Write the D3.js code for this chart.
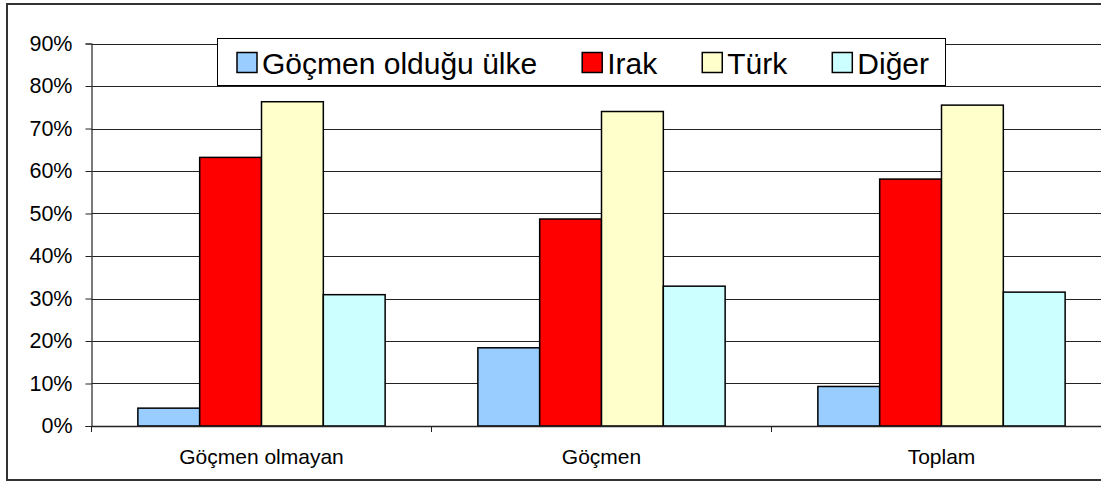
<!DOCTYPE html>
<html>
<head>
<meta charset="utf-8">
<script src="https://cdn.jsdelivr.net/npm/d3@7"></script>
<style>
  html, body { margin: 0; padding: 0; background: #fff; }
  svg { display: block; }
  text { font-family: "Liberation Sans", Arial, sans-serif; fill: #000; }
</style>
</head>
<body>
<svg id="chart" width="1101" height="484"></svg>
<script>
const categories = ["Göçmen olmayan", "Göçmen", "Toplam"];
const seriesNames = ["Göçmen olduğu ülke", "Irak", "Türk", "Diğer"];
const seriesColors = ["#99CCFF", "#FF0000", "#FFFFCC", "#CCFFFF"];
const valGocmenUlke = [4.2, 18.4, 9.3];
const valIrak = [63.2, 48.7, 58.1];
const valTurk = [76.3, 74.0, 75.5];
const valDiger = [30.9, 32.9, 31.5];
const yTicks = [0, 10, 20, 30, 40, 50, 60, 70, 80, 90];

const seriesValues = [valGocmenUlke, valIrak, valTurk, valDiger];

const svg = d3.select("#chart");

// outer chart border (extends beyond right edge like the reference)
svg.append("rect")
  .attr("x", 7).attr("y", 4).attr("width", 1120).attr("height", 476)
  .attr("fill", "#fff").attr("stroke", "#333").attr("stroke-width", 2);

const plotLeft = 91.5, catW = 340, plotTop = 43.5, plotBottom = 426;
const x = d3.scaleBand().domain(categories).range([plotLeft, plotLeft + catW * categories.length]).paddingInner(0).paddingOuter(0);
const xs = d3.scaleBand().domain(seriesNames).range([0, x.bandwidth()]).paddingInner(0).paddingOuter(0.75);
const y = d3.scaleLinear().domain([0, 90]).range([plotBottom, plotTop]);

// gridlines
svg.append("g").selectAll("line").data(yTicks.filter(d => d > 0)).join("line")
  .attr("x1", plotLeft).attr("x2", plotLeft + catW * 3)
  .attr("y1", d => Math.round(y(d)) + 0.5).attr("y2", d => Math.round(y(d)) + 0.5)
  .attr("stroke", "#222").attr("stroke-width", 1);

// bars
const groups = svg.append("g").selectAll("g").data(categories).join("g")
  .attr("transform", c => `translate(${x(c)},0)`);
groups.selectAll("rect")
  .data((c, ci) => seriesNames.map((s, si) => ({ s, si, v: seriesValues[si][ci] })))
  .join("rect")
  .attr("x", d => xs(d.s))
  .attr("width", xs.bandwidth())
  .attr("y", d => y(d.v))
  .attr("height", d => y(0) - y(d.v))
  .attr("fill", d => seriesColors[d.si])
  .attr("stroke", "#000").attr("stroke-width", 1.5);

// y axis
const yAxis = d3.axisLeft(y).tickValues(yTicks).tickFormat(d => d + "%").tickSize(6).tickPadding(13);
const gy = svg.append("g").attr("transform", `translate(${plotLeft},0)`).call(yAxis);
gy.select(".domain").attr("stroke", "#222").attr("stroke-width", 1.2);
gy.selectAll(".tick line").attr("stroke", "#222");
gy.selectAll(".tick text").attr("font-size", 21.5).style("font-family", "'Liberation Sans', Arial, sans-serif").attr("fill", "#000");

// x axis
const xEdges = d3.scaleLinear().domain([0, categories.length]).range([plotLeft, plotLeft + catW * categories.length]);
const gx = svg.append("g").attr("transform", `translate(0,${plotBottom})`);
gx.append("line").attr("x1", plotLeft).attr("x2", plotLeft + catW * 3).attr("y1", 0.5).attr("y2", 0.5)
  .attr("stroke", "#222").attr("stroke-width", 1.5);
gx.selectAll(".tk").data(d3.range(categories.length + 1)).join("line").attr("class", "tk")
  .attr("x1", i => xEdges(i)).attr("x2", i => xEdges(i)).attr("y1", 0).attr("y2", 6)
  .attr("stroke", "#222");
gx.selectAll(".lbl").data(categories).join("text").attr("class", "lbl")
  .attr("x", c => x(c) + x.bandwidth() / 2).attr("y", 38)
  .attr("text-anchor", "middle").attr("font-size", 21).text(c => c);

// legend
const leg = svg.append("g");
leg.append("rect").attr("x", 217.5).attr("y", 38.5).attr("width", 728).attr("height", 47)
  .attr("fill", "#fff").attr("stroke", "#000").attr("stroke-width", 1);

// detect a narrow font
const probeR = svg.append("text").attr("font-size", 30).style("font-family", "'Liberation Sans'").text(seriesNames[0]);
const probeN = svg.append("text").attr("font-size", 30).style("font-family", "'Liberation Sans Narrow', 'Liberation Sans'").text(seriesNames[0]);
const hasNarrow = probeN.node().getComputedTextLength() < probeR.node().getComputedTextLength() * 0.95;
probeR.remove(); probeN.remove();
const legFont = hasNarrow ? "'Liberation Sans Narrow', 'Liberation Sans', Arial, sans-serif" : "'Liberation Sans', Arial, sans-serif";
const legSize = hasNarrow ? 34 : 30;

const sw = 20, gapText = 5, legStart = 237, legEnd = 929;
const texts = seriesNames.map((s, i) => leg.append("text").attr("y", 74).attr("font-size", legSize)
  .style("font-family", legFont).text(s));
const widths = texts.map(t => t.node().getComputedTextLength());
const used = widths.reduce((a, w) => a + sw + gapText + w, 0);
const gapItem = (legEnd - legStart - used) / (seriesNames.length - 1);
let cx = legStart;
seriesNames.forEach((s, i) => {
  leg.append("rect").attr("x", cx).attr("y", 52.5).attr("width", sw).attr("height", sw)
    .attr("fill", seriesColors[i]).attr("stroke", "#000").attr("stroke-width", 1.5);
  texts[i].attr("x", cx + sw + gapText);
  cx += sw + gapText + widths[i] + gapItem;
});
</script>
</body>
</html>
